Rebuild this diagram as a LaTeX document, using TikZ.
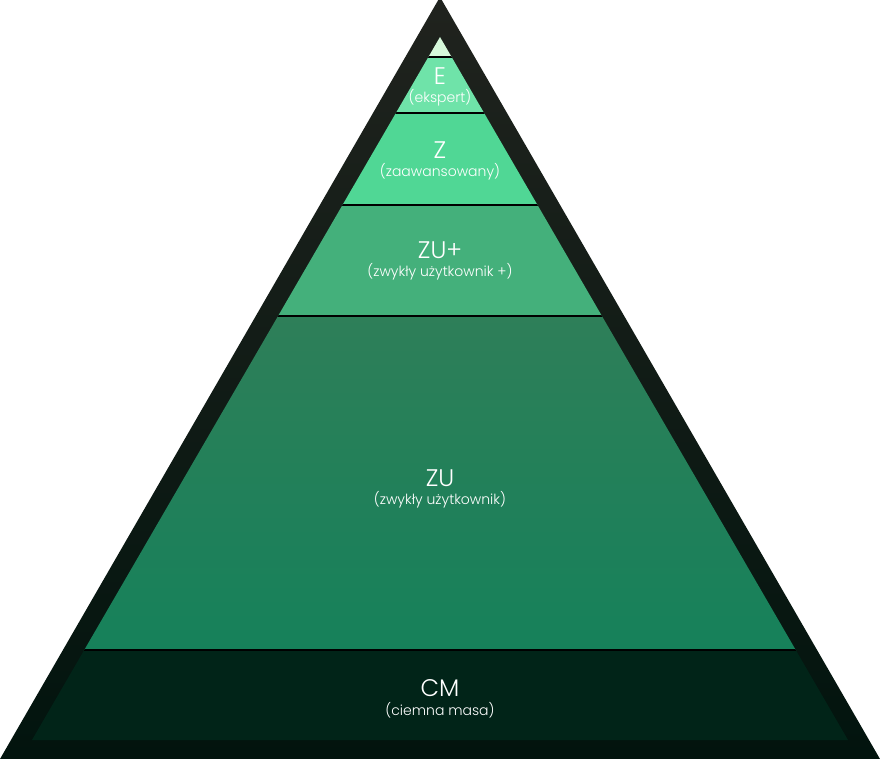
\documentclass[tikz,border=0pt]{standalone}
\usepackage{fontspec}
\IfFontExistsTF{Poppins Light}{\setmainfont{Poppins Light}}{\setmainfont{Poppins}}
\usepackage{xcolor}
\usetikzlibrary{positioning}

\definecolor{frametop}{HTML}{20231E}
\definecolor{framebot}{HTML}{02140E}
\definecolor{tipcol}{HTML}{D6F8DA}
\definecolor{ecol}{HTML}{6FE3A9}
\definecolor{zcol}{HTML}{50D795}
\definecolor{zupcol}{HTML}{44B07B}
\definecolor{zutop}{HTML}{2E7F59}
\definecolor{zubot}{HTML}{16815A}
\definecolor{cmcol}{HTML}{012418}

\begin{document}
\begin{tikzpicture}[x=1pt, y=-1pt]
    \tikzstyle{title}=[text=white, font=\fontsize{24}{24}\selectfont, inner sep=0pt]
    \tikzstyle{sub}=[text=white, font=\fontsize{14}{14}\selectfont, inner sep=0pt]
    \tikzstyle{sep}=[black, line width=2pt]

    \useasboundingbox (0,0) rectangle (880,759);

    % outer frame
    \coordinate (top) at (440,-3);
    \coordinate (bl) at (0,759);
    \coordinate (br) at (880,759);
    \shade[top color=frametop, bottom color=framebot] (top) -- (bl) -- (br) -- cycle;

    % inner triangle
    \coordinate (itop) at (440,37);
    \coordinate (ibl) at (32,740);
    \coordinate (ibr) at (848,740);

    \begin{scope}
        \clip (itop) -- (ibl) -- (ibr) -- cycle;
        \fill[tipcol] (0,30) rectangle (880,57);
        \fill[ecol] (0,57) rectangle (880,113);
        \fill[zcol] (0,113) rectangle (880,205);
        \fill[zupcol] (0,205) rectangle (880,316);
        \shade[top color=zutop, middle color=zutop!80!zubot, bottom color=zubot] (0,316) rectangle (880,650);
        \fill[cmcol] (0,650) rectangle (880,745);
        % separators
        \foreach \y in {57,113,205,316,650}
            \draw[sep] (0,\y) -- (880,\y);
    \end{scope}

    % labels
    \node[title] (E) at (440,76) {E};
    \node[sub] (Es) [below=5pt of E] {(ekspert)};
    \node[title] (Z) at (440,150) {Z};
    \node[sub] (Zs) [below=5pt of Z] {(zaawansowany)};
    \node[title] (ZUp) at (440,250) {ZU+};
    \node[sub] (ZUps) [below=5pt of ZUp] {(zwykły użytkownik +)};
    \node[title] (ZU) at (440,478) {ZU};
    \node[sub] (ZUs) [below=5pt of ZU] {(zwykły użytkownik)};
    \node[title] (CM) at (440,688) {CM};
    \node[sub] (CMs) [below=5pt of CM] {(ciemna masa)};
\end{tikzpicture}
\end{document}
